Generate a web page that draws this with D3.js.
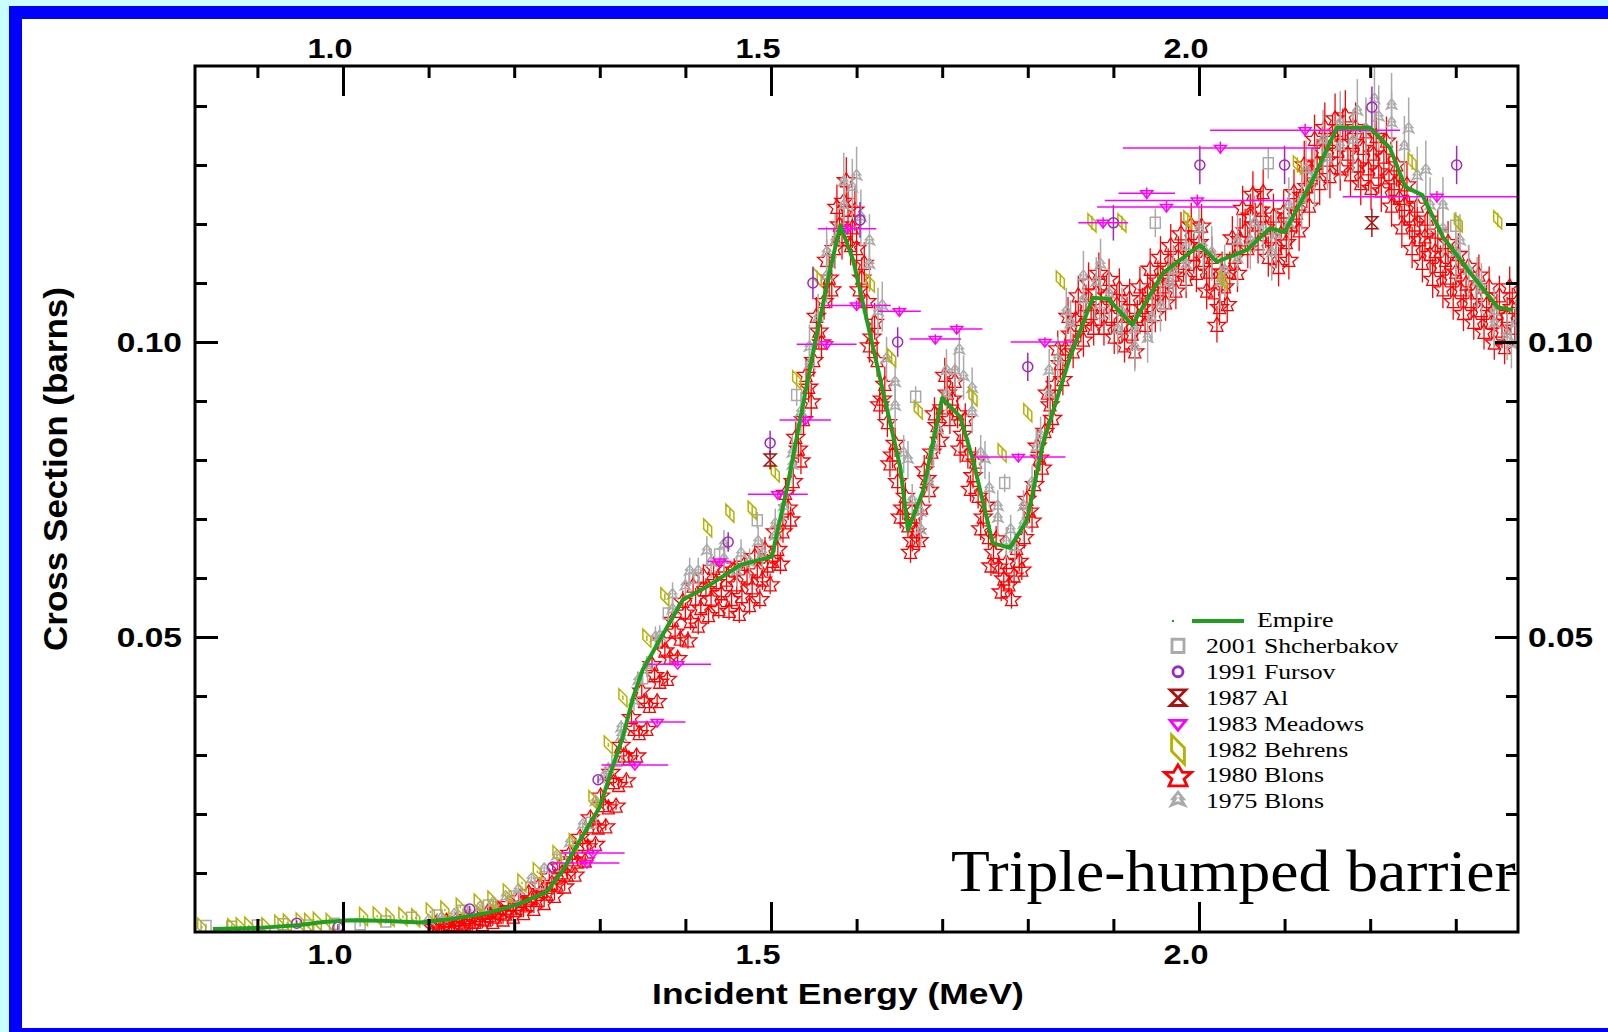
<!DOCTYPE html>
<html>
<head>
<meta charset="utf-8">
<script src="https://cdn.jsdelivr.net/npm/d3@7"></script>
<style>
  body { margin: 0; background: #c8ffff; }
  svg { display: block; }
</style>
</head>
<body>
<svg id="chart" width="1608" height="1032"></svg>
<script>
// ---- data (energy in MeV, cross section in barns) ----
var xMajorTicks = [1.0, 1.5, 2.0];
var xMinorTicks = [0.9, 1.1, 1.2, 1.3, 1.4, 1.6, 1.7, 1.8, 1.9, 2.1, 2.2, 2.3];
var xTickLabels = ["1.0", "1.5", "2.0"];
var yMajorTicks = [0.05, 0.10];
var yMinorTicks = [0.01, 0.02, 0.03, 0.04, 0.06, 0.07, 0.08, 0.09, 0.11, 0.12, 0.13, 0.14];
var yTickLabels = ["0.05", "0.10"];

var legendLabels = ["Empire", "2001 Shcherbakov", "1991 Fursov", "1987 Al", "1983 Meadows",
                    "1982 Behrens", "1980 Blons", "1975 Blons"];

// Empire calculation
var empire = [[0.848,0.0005],[0.903,0.0007],[0.950,0.0012],[0.977,0.0017],[1.008,0.0020],[1.047,0.0019],
  [1.090,0.0016],[1.128,0.0022],[1.168,0.0032],[1.203,0.0046],[1.238,0.0068],[1.257,0.0105],[1.277,0.0156],
  [1.300,0.0212],[1.315,0.0280],[1.327,0.0331],[1.339,0.0398],[1.350,0.0444],[1.370,0.0495],[1.397,0.0563],
  [1.425,0.0585],[1.464,0.0622],[1.501,0.0636],[1.519,0.0754],[1.534,0.0868],[1.549,0.0981],[1.569,0.1122],
  [1.581,0.1198],[1.596,0.1139],[1.612,0.1037],[1.635,0.0890],[1.651,0.0788],[1.660,0.0681],[1.678,0.0749],
  [1.689,0.0829],[1.700,0.0905],[1.721,0.0873],[1.736,0.0800],[1.759,0.0659],[1.779,0.0651],[1.799,0.0698],
  [1.818,0.0829],[1.849,0.0973],[1.876,0.1075],[1.894,0.1073],[1.922,0.1029],[1.958,0.1117],[2.001,0.1164],
  [2.021,0.1136],[2.056,0.1156],[2.083,0.1193],[2.100,0.1186],[2.133,0.1275],[2.161,0.1363],[2.200,0.1363],
  [2.223,0.1329],[2.241,0.1263],[2.261,0.1249],[2.285,0.1178],[2.317,0.1117],[2.349,0.1059],[2.367,0.1054]];

// 1980 Blons (two interleaved runs of the same data set)
var blons1980a = [[1.105,0.0009],[1.112,0.0012],[1.118,0.0010],[1.124,0.0014],[1.130,0.0013],[1.136,0.0017],
  [1.142,0.0015],[1.148,0.0020],[1.154,0.0018],[1.160,0.0024],[1.166,0.0022],[1.172,0.0029],[1.178,0.0027],
  [1.184,0.0034],[1.190,0.0032],[1.196,0.0041],[1.202,0.0038],[1.208,0.0049],[1.214,0.0046],[1.220,0.0058],
  [1.226,0.0055],[1.232,0.0070],[1.238,0.0066],[1.244,0.0084],[1.250,0.0081],[1.256,0.0102],[1.262,0.0098],
  [1.268,0.0124],[1.274,0.0120],[1.280,0.0150],[1.286,0.0146],[1.292,0.0180],[1.298,0.0178],[1.304,0.0216],
  [1.310,0.0212],[1.316,0.0255],[1.322,0.0250],[1.328,0.0300],[1.334,0.0295],[1.340,0.0345],[1.346,0.0338],
  [1.352,0.0392],[1.358,0.0384],[1.364,0.0436],[1.370,0.0425],[1.376,0.0478],[1.382,0.0466],[1.388,0.0510],
  [1.394,0.0498],[1.400,0.0542],[1.406,0.0528],[1.412,0.0566],[1.418,0.0550],[1.424,0.0582],[1.430,0.0566],
  [1.436,0.0594],[1.442,0.0575],[1.448,0.0598],[1.454,0.0565],[1.460,0.0590],[1.466,0.0570],[1.472,0.0602],
  [1.478,0.0585],[1.484,0.0612],[1.490,0.0598],[1.496,0.0622],[1.502,0.0630],[1.508,0.0650],[1.514,0.0680],
  [1.520,0.0720],[1.526,0.0765],[1.532,0.0820],[1.538,0.0870],[1.544,0.0925],[1.550,0.0970],[1.556,0.1020],
  [1.562,0.1070],[1.568,0.1110],[1.574,0.1160],[1.580,0.1200],[1.585,0.1240],[1.590,0.1225],[1.595,0.1195],
  [1.600,0.1160],[1.606,0.1110],[1.612,0.1070],[1.618,0.1010],[1.624,0.0970],[1.630,0.0905],[1.636,0.0865],
  [1.642,0.0810],[1.648,0.0765],[1.654,0.0720],[1.660,0.0690],[1.665,0.0665],[1.670,0.0680],[1.676,0.0720],
  [1.682,0.0770],[1.688,0.0815],[1.694,0.0860],[1.700,0.0890],[1.706,0.0915],[1.712,0.0905],[1.718,0.0880],
  [1.724,0.0845],[1.730,0.0810],[1.736,0.0775],[1.742,0.0740],[1.748,0.0705],[1.754,0.0670],[1.760,0.0645],
  [1.766,0.0620],[1.772,0.0600],[1.778,0.0590],[1.784,0.0605],[1.790,0.0630],[1.796,0.0670],[1.802,0.0715],
  [1.808,0.0760],[1.814,0.0805],[1.820,0.0850],[1.826,0.0895],[1.832,0.0930],[1.838,0.0965],[1.844,0.0990],
  [1.850,0.1015],[1.856,0.1040],[1.862,0.1030],[1.868,0.1065],[1.874,0.1050],[1.880,0.1085],[1.886,0.1060],
  [1.892,0.1080],[1.898,0.1045],[1.904,0.1065],[1.910,0.1030],[1.916,0.1045],[1.922,0.1015],[1.928,0.1040],
  [1.934,0.1060],[1.940,0.1085],[1.946,0.1075],[1.952,0.1105],[1.958,0.1095],[1.964,0.1125],[1.970,0.1115],
  [1.976,0.1145],[1.982,0.1135],[1.988,0.1165],[1.994,0.1150],[2.000,0.1170],[2.006,0.1140],[2.012,0.1120],
  [2.018,0.1085],[2.024,0.1060],[2.030,0.1095],[2.036,0.1120],[2.042,0.1145],[2.048,0.1175],[2.054,0.1190],
  [2.060,0.1215],[2.066,0.1200],[2.072,0.1225],[2.078,0.1195],[2.084,0.1180],[2.090,0.1160],[2.096,0.1185],
  [2.102,0.1170],[2.108,0.1200],[2.114,0.1220],[2.120,0.1250],[2.126,0.1265],[2.132,0.1290],[2.138,0.1305],
  [2.144,0.1325],[2.150,0.1310],[2.156,0.1345],[2.162,0.1325],[2.168,0.1355],[2.174,0.1320],[2.180,0.1340],
  [2.186,0.1300],[2.192,0.1330],[2.198,0.1295],[2.204,0.1320],[2.210,0.1290],[2.216,0.1315],[2.222,0.1280],
  [2.228,0.1270],[2.234,0.1245],[2.240,0.1235],[2.246,0.1210],[2.252,0.1200],[2.258,0.1175],[2.264,0.1180],
  [2.270,0.1150],[2.276,0.1155],[2.282,0.1130],[2.288,0.1140],[2.294,0.1110],[2.300,0.1120],[2.306,0.1090],
  [2.312,0.1100],[2.318,0.1070],[2.324,0.1085],[2.330,0.1055],[2.336,0.1065],[2.342,0.1035],[2.348,0.1050],
  [2.354,0.1020],[2.360,0.1045],[2.366,0.1060],[2.372,0.1070]];

var blons1980b = [[1.109,0.0017],[1.115,0.0005],[1.121,0.0020],[1.127,0.0006],[1.133,0.0023],[1.139,0.0008],
  [1.145,0.0026],[1.151,0.0010],[1.157,0.0030],[1.163,0.0014],[1.169,0.0035],[1.175,0.0018],[1.181,0.0041],
  [1.187,0.0022],[1.193,0.0048],[1.199,0.0027],[1.205,0.0058],[1.211,0.0033],[1.217,0.0068],[1.223,0.0040],
  [1.229,0.0080],[1.235,0.0050],[1.241,0.0095],[1.247,0.0062],[1.253,0.0112],[1.259,0.0078],[1.265,0.0135],
  [1.271,0.0098],[1.277,0.0162],[1.283,0.0122],[1.289,0.0195],[1.295,0.0150],[1.301,0.0232],[1.307,0.0180],
  [1.313,0.0272],[1.319,0.0215],[1.325,0.0318],[1.331,0.0258],[1.337,0.0365],[1.343,0.0300],[1.349,0.0410],
  [1.355,0.0345],[1.361,0.0455],[1.367,0.0392],[1.373,0.0495],[1.379,0.0430],[1.385,0.0530],[1.391,0.0465],
  [1.397,0.0562],[1.403,0.0495],[1.409,0.0588],[1.415,0.0520],[1.421,0.0605],[1.427,0.0538],[1.433,0.0618],
  [1.439,0.0548],[1.445,0.0622],[1.451,0.0545],[1.457,0.0615],[1.463,0.0540],[1.469,0.0625],[1.475,0.0555],
  [1.481,0.0638],[1.487,0.0565],[1.493,0.0650],[1.499,0.0590],[1.505,0.0680],[1.511,0.0625],[1.517,0.0745],
  [1.523,0.0700],[1.529,0.0840],[1.535,0.0800],[1.541,0.0945],[1.547,0.0900],[1.553,0.1045],[1.559,0.1000],
  [1.565,0.1140],[1.571,0.1090],[1.577,0.1230],[1.583,0.1175],[1.588,0.1275],[1.593,0.1165],[1.598,0.1225],
  [1.603,0.1090],[1.609,0.1135],[1.615,0.0995],[1.621,0.1035],[1.627,0.0895],[1.633,0.0930],[1.639,0.0795],
  [1.645,0.0830],[1.651,0.0705],[1.657,0.0740],[1.663,0.0645],[1.668,0.0705],[1.673,0.0665],[1.679,0.0785],
  [1.685,0.0750],[1.691,0.0880],[1.697,0.0835],[1.703,0.0945],[1.709,0.0870],[1.715,0.0935],[1.721,0.0820],
  [1.727,0.0870],[1.733,0.0752],[1.739,0.0798],[1.745,0.0685],[1.751,0.0725],[1.757,0.0622],[1.763,0.0668],
  [1.769,0.0578],[1.775,0.0628],[1.781,0.0565],[1.787,0.0652],[1.793,0.0615],[1.799,0.0735],[1.805,0.0698],
  [1.811,0.0825],[1.817,0.0788],[1.823,0.0915],[1.829,0.0872],[1.835,0.0990],[1.841,0.0938],[1.847,0.1045],
  [1.853,0.0985],[1.859,0.1080],[1.865,0.1005],[1.871,0.1102],[1.877,0.1025],[1.883,0.1118],[1.889,0.1025],
  [1.895,0.1108],[1.901,0.1010],[1.907,0.1092],[1.913,0.0995],[1.919,0.1075],[1.925,0.0985],[1.931,0.1095],
  [1.937,0.1030],[1.943,0.1125],[1.949,0.1048],[1.955,0.1145],[1.961,0.1068],[1.967,0.1165],[1.973,0.1088],
  [1.979,0.1185],[1.985,0.1108],[1.991,0.1200],[1.997,0.1118],[2.003,0.1198],[2.009,0.1088],[2.015,0.1145],
  [2.021,0.1030],[2.027,0.1120],[2.033,0.1065],[2.039,0.1178],[2.045,0.1118],[2.051,0.1228],[2.057,0.1160],
  [2.063,0.1252],[2.069,0.1168],[2.075,0.1255],[2.081,0.1145],[2.087,0.1215],[2.093,0.1128],[2.099,0.1222],
  [2.105,0.1140],[2.111,0.1255],[2.117,0.1190],[2.123,0.1302],[2.129,0.1232],[2.135,0.1345],[2.141,0.1270],
  [2.147,0.1365],[2.153,0.1282],[2.159,0.1380],[2.165,0.1295],[2.171,0.1385],[2.177,0.1285],[2.183,0.1365],
  [2.189,0.1270],[2.195,0.1358],[2.201,0.1262],[2.207,0.1350],[2.213,0.1258],[2.219,0.1342],[2.225,0.1232],
  [2.231,0.1302],[2.237,0.1195],[2.243,0.1268],[2.249,0.1160],[2.255,0.1232],[2.261,0.1135],[2.267,0.1210],
  [2.273,0.1108],[2.279,0.1188],[2.285,0.1090],[2.291,0.1170],[2.297,0.1070],[2.303,0.1150],[2.309,0.1050],
  [2.315,0.1130],[2.321,0.1035],[2.327,0.1115],[2.333,0.1018],[2.339,0.1095],[2.345,0.1000],[2.351,0.1080],
  [2.357,0.0992],[2.363,0.1095],[2.369,0.1025]];

// 1975 Blons (two interleaved runs)
var blons1975a = [[1.100,0.0018],[1.115,0.0022],[1.130,0.0028],[1.145,0.0034],[1.160,0.0040],[1.175,0.0048],
  [1.190,0.0058],[1.205,0.0070],[1.220,0.0088],[1.235,0.0105],[1.250,0.0128],[1.265,0.0150],[1.280,0.0180],
  [1.295,0.0220],[1.310,0.0275],[1.325,0.0330],[1.340,0.0390],[1.355,0.0450],[1.370,0.0500],[1.385,0.0545],
  [1.400,0.0585],[1.415,0.0610],[1.430,0.0625],[1.445,0.0630],[1.460,0.0610],[1.475,0.0625],[1.490,0.0640],
  [1.505,0.0670],[1.515,0.0720],[1.525,0.0790],[1.535,0.0880],[1.545,0.0960],[1.555,0.1040],[1.565,0.1110],
  [1.575,0.1170],[1.585,0.1230],[1.595,0.1260],[1.605,0.1210],[1.615,0.1130],[1.625,0.1050],[1.635,0.0970],
  [1.645,0.0890],[1.655,0.0810],[1.665,0.0730],[1.675,0.0680],[1.685,0.0760],[1.695,0.0850],[1.705,0.0910],
  [1.715,0.0950],[1.725,0.0940],[1.735,0.0880],[1.745,0.0810],[1.755,0.0750],[1.765,0.0700],[1.775,0.0660],
  [1.785,0.0650],[1.795,0.0690],[1.805,0.0760],[1.815,0.0840],[1.825,0.0910],[1.835,0.0970],[1.850,0.1030],
  [1.865,0.1070],[1.880,0.1100],[1.895,0.1080],[1.910,0.1050],[1.925,0.1020],[1.940,0.1005],[1.955,0.1060],
  [1.970,0.1120],[1.985,0.1160],[2.000,0.1190],[2.015,0.1150],[2.030,0.1120],[2.045,0.1140],[2.060,0.1170],
  [2.075,0.1190],[2.090,0.1180],[2.105,0.1200],[2.120,0.1240],[2.135,0.1280],[2.150,0.1310],[2.165,0.1330],
  [2.180,0.1340],[2.195,0.1360],[2.210,0.1380],[2.225,0.1370],[2.240,0.1330],[2.255,0.1280],[2.270,0.1230],
  [2.285,0.1190],[2.300,0.1150],[2.315,0.1120],[2.330,0.1090],[2.345,0.1050],[2.360,0.1010],[2.370,0.1030]];

var blons1975b = [[1.305,0.0262],[1.325,0.0345],[1.345,0.0425],[1.365,0.0498],[1.385,0.0570],[1.405,0.0610],
  [1.425,0.0645],[1.445,0.0655],[1.465,0.0640],[1.485,0.0660],[1.505,0.0690],[1.525,0.0810],[1.545,0.0990],
  [1.565,0.1150],[1.585,0.1270],[1.600,0.1280],[1.615,0.1170],[1.630,0.1060],[1.645,0.0930],[1.660,0.0800],
  [1.675,0.0710],[1.690,0.0820],[1.705,0.0950],[1.720,0.0985],[1.735,0.0920],[1.750,0.0800],[1.765,0.0720],
  [1.780,0.0680],[1.795,0.0720],[1.810,0.0820],[1.825,0.0950],[1.845,0.1050],[1.865,0.1110],[1.885,0.1130],
  [1.905,0.1020],[1.925,0.0990],[1.945,0.1040],[1.965,0.1100],[1.985,0.1130],[2.005,0.1160],[2.025,0.1100],
  [2.045,0.1170],[2.065,0.1200],[2.085,0.1150],[2.105,0.1230],[2.125,0.1290],[2.145,0.1340],[2.165,0.1370],
  [2.185,0.1390],[2.205,0.1410],[2.225,0.1400],[2.245,0.1360],[2.265,0.1290],[2.285,0.1230],[2.305,0.1170],
  [2.325,0.1100],[2.345,0.1030],[2.365,0.0995]];

// 2001 Shcherbakov
var shcherbakov2001 = [[0.840,0.0010],[0.870,0.0009],[0.900,0.0011],[0.930,0.0013],[0.960,0.0011],
  [0.990,0.0014],[1.020,0.0013],[1.050,0.0018],[1.080,0.0024],[1.110,0.0028],[1.140,0.0036],[1.170,0.0045],
  [1.200,0.0060],[1.230,0.0082],[1.260,0.0125],[1.290,0.0185],[1.320,0.0290],[1.350,0.0430],[1.380,0.0540],
  [1.410,0.0600],[1.440,0.0640],[1.484,0.0698],[1.530,0.0910],[1.669,0.0907],[1.773,0.0761],[1.884,0.1049],
  [1.949,0.1202],[2.081,0.1303],[2.300,0.1197]];

// 1991 Fursov
var fursov1991 = [[0.946,0.0015],[0.994,0.0008],[1.148,0.0039],[1.245,0.0110],[1.298,0.0258],[1.450,0.0661],
  [1.499,0.0829],[1.549,0.1100],[1.604,0.1207],[1.648,0.1000],[1.800,0.0958],[1.900,0.1202],[2.001,0.1300],
  [2.100,0.1300],[2.202,0.1398],[2.301,0.1300]];

// 1987 Al
var al1987 = [[1.499,0.0800],[2.202,0.1202]];

// 1983 Meadows: energy, cross section, energy half-width
var meadows1983 = [[1.285,0.0117,0.038],[1.292,0.0134,0.037],[1.341,0.0283,0.039],[1.367,0.0356,0.033],
  [1.391,0.0454,0.039],[1.440,0.0628,0.014],[1.508,0.0742,0.035],[1.540,0.0868,0.030],[1.565,0.0996,0.035],
  [1.589,0.1192,0.034],[1.600,0.1062,0.040],[1.650,0.1052,0.025],[1.692,0.1005,0.030],[1.717,0.1022,0.030],
  [1.789,0.0805,0.055],[1.820,0.1000,0.040],[1.888,0.1202,0.029],[1.939,0.1252,0.033],[1.962,0.1229,0.081],
  [1.998,0.1240,0.108],[2.025,0.1329,0.114],[2.124,0.1359,0.111],[2.278,0.1246,0.110]];

// 1982 Behrens
var behrens1982 = [[0.835,0.0008],[0.870,0.0007],[0.880,0.0009],[0.890,0.0010],[0.910,0.0009],[0.925,0.0013],
  [0.935,0.0015],[0.950,0.0017],[0.960,0.0016],[0.970,0.0018],[0.985,0.0016],[1.024,0.0026],[1.040,0.0027],
  [1.055,0.0025],[1.070,0.0026],[1.085,0.0024],[1.102,0.0034],[1.119,0.0037],[1.137,0.0042],[1.158,0.0049],
  [1.174,0.0054],[1.192,0.0066],[1.209,0.0083],[1.227,0.0102],[1.250,0.0131],[1.269,0.0151],[1.292,0.0224],
  [1.310,0.0317],[1.327,0.0397],[1.355,0.0498],[1.376,0.0568],[1.426,0.0685],[1.452,0.0710],[1.478,0.0715],
  [1.505,0.0778],[1.530,0.0936],[1.554,0.1110],[1.616,0.1100],[1.641,0.0973],[1.672,0.0885],[1.736,0.0907],
  [1.770,0.0812],[1.800,0.0880],[1.838,0.1105],[1.875,0.1202],[1.910,0.1202],[1.987,0.1207],[2.028,0.1105],
  [2.115,0.1300],[2.249,0.1305],[2.303,0.1202],[2.349,0.1207]];

// ---- layout ----
var W = 1608, H = 1032;
var plot = { left: 195, top: 66, right: 1518, bottom: 932 };
var sans = "'Liberation Sans', Arial, Helvetica, sans-serif";
var serif = "'Liberation Serif', 'Times New Roman', serif";

var svg = d3.select("#chart");

// slide frame
svg.append("rect").attr("width", W).attr("height", H).attr("fill", "#c8ffff");
svg.append("rect").attr("x", 9).attr("y", 6).attr("width", W).attr("height", H).attr("fill", "#0000ff");
svg.append("rect").attr("x", 22).attr("y", 19).attr("width", W).attr("height", 1028 - 19).attr("fill", "#ffffff");

var x = d3.scaleLinear().domain([0.8271, 2.3727]).range([plot.left, plot.right]);
var y = d3.scaleLinear().domain([0, 0.14678]).range([plot.bottom, plot.top]);

svg.append("clipPath").attr("id", "plotclip")
  .append("rect")
  .attr("x", plot.left).attr("y", plot.top)
  .attr("width", plot.right - plot.left).attr("height", plot.bottom - plot.top);

var dataLayer = svg.append("g").attr("clip-path", "url(#plotclip)");

// marker outlines
var shapes = {
  blons80: "M0,-7L3,-2L9,-2L4,2.5L6,7L-6,7L-4,2.5L-9,-2L-3,-2Z",
  blons75: "M0,-7L4,-2L2,-2L5,3L0,1L-5,3L-2,-2L-4,-2Z",
  square: "M-5,-5.5H5V5.5H-5Z",
  circle: "M5,0A5,5 0 1,1 -5,0A5,5 0 1,1 5,0Z",
  hourglass: "M-6,-6H6L-6,6H6Z",
  triangle: "M-6,-2.5H6L0,5Z",
  behrens: "M-4,-9V1L4,9V-1Z"
};

function drawSeries(data, cfg) {
  var g = dataLayer.append("g")
    .attr("stroke", cfg.color).attr("fill", "none")
    .attr("stroke-width", cfg.width || 1.5);
  var pts = g.selectAll("g").data(data).enter().append("g");
  pts.append("line")
    .attr("x1", d => x(d[0])).attr("x2", d => x(d[0]))
    .attr("y1", d => y(d[1] + Math.max(d[1] * cfg.err, cfg.minErr)))
    .attr("y2", d => y(d[1] - Math.max(d[1] * cfg.err, cfg.minErr)));
  if (cfg.hbar) {
    pts.append("line")
      .attr("x1", d => x(d[0] - d[2])).attr("x2", d => x(d[0] + d[2]))
      .attr("y1", d => y(d[1])).attr("y2", d => y(d[1]));
  }
  pts.append("path").attr("d", cfg.shape)
    .attr("transform", d => "translate(" + x(d[0]) + "," + y(d[1]) + ")");
}

drawSeries(blons1980a.concat(blons1980b), { color: "#ff0000", shape: shapes.blons80, err: 0.03, minErr: 0.0008, width: 1.3 });
drawSeries(blons1975a.concat(blons1975b), { color: "#aaaaaa", shape: shapes.blons75, err: 0.04, minErr: 0.0008 });
drawSeries(shcherbakov2001, { color: "#aaaaaa", shape: shapes.square, err: 0.02, minErr: 0.0004 });
drawSeries(behrens1982, { color: "#b4b400", shape: shapes.behrens, err: 0.01, minErr: 0.0002 });
drawSeries(fursov1991, { color: "#a028c0", shape: shapes.circle, err: 0.025, minErr: 0.0005 });
drawSeries(al1987, { color: "#aa1111", shape: shapes.hourglass, err: 0.02, minErr: 0.0005 });
drawSeries(meadows1983, { color: "#ff00ff", shape: shapes.triangle, err: 0.008, minErr: 0.0004, hbar: true });

// Empire curve
dataLayer.append("path")
  .datum(empire)
  .attr("fill", "none")
  .attr("stroke", "#1ea01e")
  .attr("stroke-width", 4)
  .attr("stroke-linejoin", "round")
  .attr("d", d3.line().x(d => x(d[0])).y(d => y(d[1])));

// ---- axes (ticks point inward) ----
function tickAxis(axis, transform, values, size) {
  var g = svg.append("g").attr("transform", transform)
    .call(axis.tickValues(values).tickSize(size).tickFormat(""));
  g.select(".domain").remove();
  g.selectAll("line").attr("stroke", "#000").attr("stroke-width", 3);
}
tickAxis(d3.axisBottom(x), "translate(0," + plot.bottom + ")", xMajorTicks, -30);
tickAxis(d3.axisBottom(x), "translate(0," + plot.bottom + ")", xMinorTicks, -13);
tickAxis(d3.axisTop(x), "translate(0," + plot.top + ")", xMajorTicks, -30);
tickAxis(d3.axisTop(x), "translate(0," + plot.top + ")", xMinorTicks, -12);
tickAxis(d3.axisLeft(y), "translate(" + plot.left + ",0)", yMajorTicks, -23);
tickAxis(d3.axisLeft(y), "translate(" + plot.left + ",0)", yMinorTicks, -12);
tickAxis(d3.axisRight(y), "translate(" + plot.right + ",0)", yMajorTicks, -23);
tickAxis(d3.axisRight(y), "translate(" + plot.right + ",0)", yMinorTicks, -12);

svg.append("rect")
  .attr("x", plot.left).attr("y", plot.top)
  .attr("width", plot.right - plot.left).attr("height", plot.bottom - plot.top)
  .attr("fill", "none").attr("stroke", "#000").attr("stroke-width", 3);

// stretch text horizontally the way the slide raster is
function stretch(sel, k) {
  sel.each(function () {
    var w = this.getComputedTextLength();
    d3.select(this).attr("textLength", w * k).attr("lengthAdjust", "spacingAndGlyphs");
  });
}

function label(txt, px, py, anchor, size, font, weight) {
  return svg.append("text").attr("x", px).attr("y", py)
    .attr("text-anchor", anchor).attr("font-family", font)
    .attr("font-size", size).attr("font-weight", weight || "normal")
    .attr("fill", "#000").text(txt);
}

xMajorTicks.forEach(function (v, i) {
  stretch(label(xTickLabels[i], x(v) - 13, 964, "middle", 27, sans, "bold"), 1.2);
  stretch(label(xTickLabels[i], x(v) - 13, 58, "middle", 27, sans, "bold"), 1.2);
});
yMajorTicks.forEach(function (v, i) {
  stretch(label(yTickLabels[i], 182, y(v) + 10, "end", 27, sans, "bold"), 1.24);
  stretch(label(yTickLabels[i], 1528, y(v) + 10, "start", 27, sans, "bold"), 1.24);
});

stretch(label("Incident Energy (MeV)", 838, 1004, "middle", 30, sans, "bold"), 1.18);
stretch(label("Cross Section (barns)", 0, 0, "middle", 34, sans, "bold")
  .attr("transform", "translate(67,469) rotate(-90)"), 1.03);

stretch(label("Triple-humped barrier", 951, 891, "start", 60, serif), 1.06);

// ---- legend ----
var legend = svg.append("g");
var legendStyles = [
  { color: "#1ea01e" },
  { color: "#aaaaaa", shape: shapes.square, scale: 1.2 },
  { color: "#a028c0", shape: shapes.circle, scale: 1.0 },
  { color: "#aa1111", shape: shapes.hourglass, scale: 1.3 },
  { color: "#ff00ff", shape: shapes.triangle, scale: 1.3 },
  { color: "#b4b400", shape: shapes.behrens, scale: 1.6 },
  { color: "#ff0000", shape: shapes.blons80, scale: 1.5 },
  { color: "#aaaaaa", shape: shapes.blons75, scale: 1.3 }
];
legendLabels.forEach(function (name, i) {
  var base = 627 + i * 25.9;
  var st = legendStyles[i];
  if (i === 0) {
    legend.append("circle").attr("cx", 1173).attr("cy", base - 6).attr("r", 1.2).attr("fill", st.color);
    legend.append("line").attr("x1", 1192).attr("x2", 1244).attr("y1", base - 6).attr("y2", base - 6)
      .attr("stroke", st.color).attr("stroke-width", 4);
    stretch(label(name, 1257, base, "start", 22, serif), 1.18);
  } else {
    legend.append("path").attr("d", st.shape)
      .attr("transform", "translate(1178," + (base - 7) + ") scale(" + st.scale + ")")
      .attr("fill", "none").attr("stroke", st.color).attr("stroke-width", 2.4 / st.scale * 1.2);
    stretch(label(name, 1206, base, "start", 22, serif), 1.17);
  }
});
</script>
</body>
</html>
